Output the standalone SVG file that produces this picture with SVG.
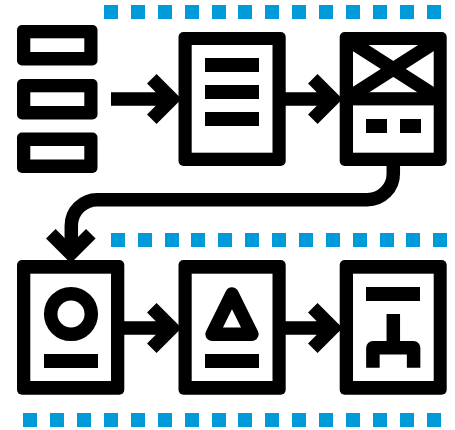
<svg xmlns="http://www.w3.org/2000/svg" width="455" height="430" viewBox="0 0 455 430">
<style>
.s{fill:none;stroke:#000;stroke-width:13.5;stroke-linejoin:round}
.o{fill:#000}
.w{fill:#fff}
.c{fill:none;stroke:#000;stroke-width:13.5;stroke-linejoin:miter;stroke-miterlimit:10}
.k{fill:#000}
.d{fill:#009ad9}
</style>
<defs>
<rect id="sq" class="d" width="14" height="14"/>
</defs>
<g id="dots-top">
<use href="#sq" x="104" y="5"/><use href="#sq" x="131" y="5"/><use href="#sq" x="158" y="5"/><use href="#sq" x="185" y="5"/><use href="#sq" x="212" y="5"/><use href="#sq" x="238" y="5"/><use href="#sq" x="265" y="5"/><use href="#sq" x="292" y="5"/><use href="#sq" x="319" y="5"/><use href="#sq" x="346" y="5"/><use href="#sq" x="373" y="5"/><use href="#sq" x="400" y="5"/><use href="#sq" x="427" y="5"/>
</g>
<g id="dots-middle">
<use href="#sq" x="111" y="233"/><use href="#sq" x="138" y="233"/><use href="#sq" x="165" y="233"/><use href="#sq" x="191" y="233"/><use href="#sq" x="218" y="233"/><use href="#sq" x="245" y="233"/><use href="#sq" x="272" y="233"/><use href="#sq" x="299" y="233"/><use href="#sq" x="326" y="233"/><use href="#sq" x="353" y="233"/><use href="#sq" x="380" y="233"/><use href="#sq" x="406" y="233"/><use href="#sq" x="433" y="233"/>
</g>
<g id="dots-bottom">
<use href="#sq" x="23" y="413"/><use href="#sq" x="50" y="413"/><use href="#sq" x="77" y="413"/><use href="#sq" x="104" y="413"/><use href="#sq" x="131" y="413"/><use href="#sq" x="158" y="413"/><use href="#sq" x="185" y="413"/><use href="#sq" x="212" y="413"/><use href="#sq" x="238" y="413"/><use href="#sq" x="265" y="413"/><use href="#sq" x="292" y="413"/><use href="#sq" x="319" y="413"/><use href="#sq" x="346" y="413"/><use href="#sq" x="373" y="413"/><use href="#sq" x="400" y="413"/><use href="#sq" x="427" y="413"/>
</g>
<g id="connectors">
<path class="c" d="M111 99H172M151.8 78.8L172 99L151.8 119.2"/>
<path class="c" d="M285 99H333M312.8 78.8L333 99L312.8 119.2"/>
<path class="c" d="M393.3 160V173.7A26 26 0 0 1 367.3 199.7H97.3A26 26 0 0 0 71.3 225.7V253"/>
<path class="c" d="M50.8 233.7L70.8 253.7L90.8 233.7"/>
<path class="c" d="M118 328H172M151.8 307.8L172 328L151.8 348.2"/>
<path class="c" d="M280 328H333M312.8 307.8L333 328L312.8 348.2"/>
</g>
<g id="list-item-1"><rect class="o" x="17" y="25" width="80.5" height="40.5" rx="5"/><rect class="w" x="30.3" y="38.3" width="54" height="13.7"/></g>
<g id="list-item-2"><rect class="o" x="17" y="79" width="80.5" height="40.5" rx="5"/><rect class="w" x="30.3" y="92.3" width="54" height="13.7"/></g>
<g id="list-item-3"><rect class="o" x="17" y="132.5" width="80.5" height="40.5" rx="5"/><rect class="w" x="30.3" y="146" width="54" height="13.5"/></g>
<g id="node-text">
<rect class="o" x="178.5" y="32" width="107.2" height="134" rx="5"/>
<rect class="w" x="191.7" y="45" width="80.8" height="107.7"/>
<rect class="k" x="205" y="58" width="54" height="14"/>
<rect class="k" x="205" y="85" width="54" height="14"/>
<rect class="k" x="205" y="112" width="54" height="14"/>
</g>
<g id="node-wireframe">
<rect class="o" x="339.7" y="32" width="107" height="134" rx="5"/>
<rect class="w" x="353" y="45" width="80.7" height="107.7"/>
<path class="s" d="M350 41.3L436.6 96.6M436.6 41.3L350 96.6"/>
<rect class="k" x="346.5" y="92.2" width="93.5" height="13.2"/>
<rect class="k" x="366" y="119" width="21" height="14"/>
<rect class="k" x="400" y="119" width="21" height="14"/>
</g>
<g id="node-circle">
<rect class="o" x="17" y="260" width="107.3" height="134.7" rx="5"/>
<rect class="w" x="30.3" y="273.7" width="80.7" height="107.3"/>
<circle class="s" cx="71" cy="314" r="20.3"/>
<rect class="k" x="44" y="354" width="54" height="14"/>
</g>
<g id="node-triangle">
<rect class="o" x="178.5" y="260" width="107.2" height="134.7" rx="5"/>
<rect class="w" x="191.7" y="273.7" width="80.8" height="107.3"/>
<path class="s" d="M232 294L251.9 334.2H212.1Z"/>
<rect class="k" x="205" y="354" width="54" height="14"/>
</g>
<g id="node-hierarchy">
<rect class="o" x="339.7" y="260" width="107" height="134.7" rx="5"/>
<rect class="w" x="353" y="273.7" width="80.7" height="107.3"/>
<rect class="k" x="366" y="287" width="54" height="14"/>
<path class="s" d="M393.3 314V347.75M372.9 367.7V347.75H413.6V367.7"/>
</g>
</svg>
